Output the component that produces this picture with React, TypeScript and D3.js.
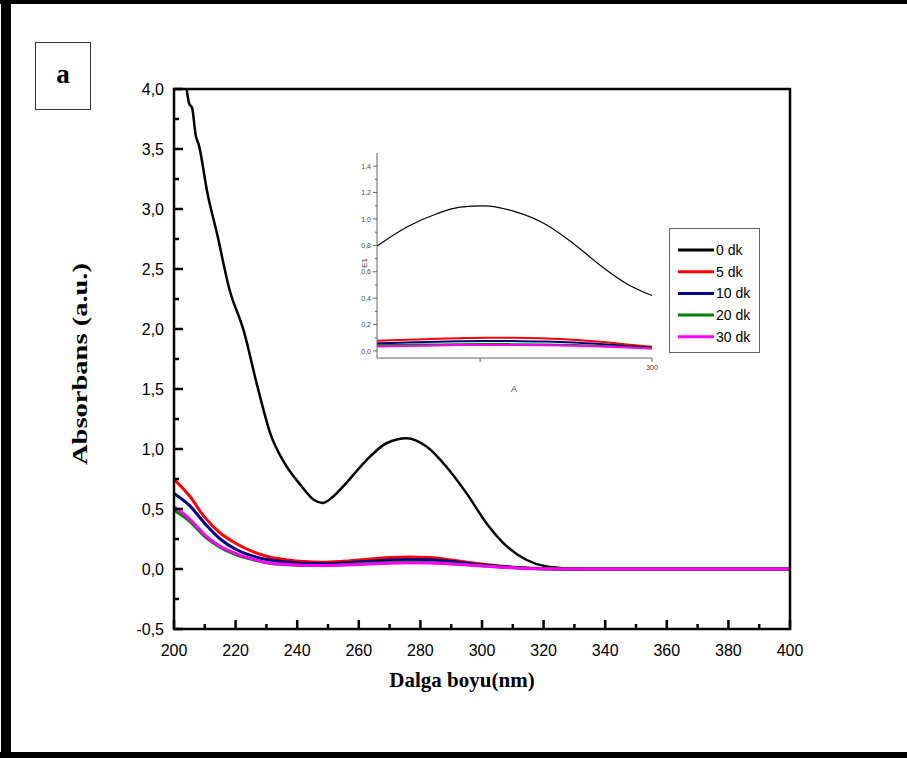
import React from "react";
import * as d3 from "d3";

// ---------- main chart data ----------
const blackX = [203.6, 204.1, 204.9, 205.9, 207.0, 208.1, 210.8, 214.1, 217.9, 222.7, 227.0, 231.4, 235.7, 241.1, 245.5, 248.2, 251.5, 255.0, 262.6, 269.1, 275.6, 282.0, 288.5, 295.0, 301.5, 308.0, 314.5, 321.0, 327.5, 332.0];
const blackY = [4.1, 4.0, 3.88, 3.84, 3.62, 3.53, 3.14, 2.78, 2.34, 1.98, 1.53, 1.12, 0.89, 0.70, 0.575, 0.55, 0.6, 0.69, 0.91, 1.05, 1.09, 1.02, 0.85, 0.63, 0.38, 0.19, 0.075, 0.02, 0.005, 0.0];

const wl = [200, 205, 210, 215, 220, 226, 231, 237, 242, 248, 255, 262, 270, 276, 283, 290, 297, 305, 312, 320, 330, 400];
const red = [0.75, 0.61, 0.43, 0.3, 0.215, 0.14, 0.1, 0.075, 0.062, 0.056, 0.065, 0.08, 0.095, 0.1, 0.095, 0.075, 0.05, 0.028, 0.012, 0.003, 0, 0];
const blue = [0.63, 0.53, 0.38, 0.25, 0.165, 0.105, 0.075, 0.058, 0.047, 0.043, 0.05, 0.062, 0.075, 0.08, 0.077, 0.062, 0.042, 0.024, 0.01, 0.002, 0, 0];
const green = [0.49, 0.4, 0.27, 0.18, 0.12, 0.075, 0.048, 0.035, 0.03, 0.03, 0.035, 0.045, 0.055, 0.058, 0.055, 0.045, 0.032, 0.018, 0.008, 0.002, 0, 0];
const magenta = [0.52, 0.42, 0.285, 0.19, 0.13, 0.08, 0.05, 0.037, 0.031, 0.03, 0.033, 0.04, 0.048, 0.052, 0.05, 0.042, 0.03, 0.017, 0.007, 0.002, 0, 0];

const legendLabels = ["0 dk", "5 dk", "10 dk", "20 dk", "30 dk"];
const seriesColors = ["#000000", "#ff0000", "#000080", "#008000", "#ff00ff"];

const xTicksMajor = [200, 220, 240, 260, 280, 300, 320, 340, 360, 380, 400];
const yTicksMajor = [-0.5, 0, 0.5, 1, 1.5, 2, 2.5, 3, 3.5, 4];

// ---------- inset data ----------
const insetX = [220, 228.7, 237.4, 244.2, 251, 259.7, 269.4, 277.1, 284.9, 292.6, 300];
const insetBlack = [0.795, 0.94, 1.04, 1.09, 1.1, 1.06, 0.955, 0.815, 0.65, 0.51, 0.42];
const insetRed = [0.078, 0.085, 0.092, 0.097, 0.1, 0.1, 0.095, 0.085, 0.07, 0.05, 0.032];
const insetBlue = [0.058, 0.064, 0.07, 0.074, 0.076, 0.075, 0.072, 0.065, 0.053, 0.038, 0.025];
const insetGreen = [0.045, 0.047, 0.05, 0.052, 0.053, 0.052, 0.05, 0.046, 0.04, 0.03, 0.02];
const insetMagenta = [0.035, 0.038, 0.042, 0.045, 0.046, 0.046, 0.044, 0.04, 0.034, 0.026, 0.018];
const insetYTicks = [0, 0.2, 0.4, 0.6, 0.8, 1.0, 1.2, 1.4];
const insetXTicks = [250, 300];

const fmt = (v: number) => d3.format(".1f")(v).replace(".", ",").replace("−", "-");

export default function App() {
  const W = 907, H = 758;
  const x = d3.scaleLinear().domain([200, 400]).range([174, 790]);
  const y = d3.scaleLinear().domain([-0.5, 4.0]).range([629, 89]);

  const line = (xs: number[], ys: number[]) =>
    d3.line<number>().x((_, i) => x(xs[i])).y((d) => y(d)).curve(d3.curveMonotoneX)(ys) || "";

  const xMinor = d3.range(210, 400, 20);
  const yMinor = d3.range(-0.25, 4.0, 0.5);

  // inset
  const ix = d3.scaleLinear().domain([220, 300]).range([377, 652]);
  const iy = d3.scaleLinear().domain([-0.05, 1.5]).range([357.6, 153]);
  const iline = (ys: number[]) =>
    d3.line<number>().x((_, i) => ix(insetX[i])).y((d) => iy(d)).curve(d3.curveMonotoneX)(ys) || "";
  const insetYMinor = d3.range(0.1, 1.5, 0.2);

  const mainSeries = [
    { ys: red, c: seriesColors[1] },
    { ys: blue, c: seriesColors[2] },
    { ys: green, c: seriesColors[3] },
    { ys: magenta, c: seriesColors[4] },
  ];
  const insetSeries = [
    { ys: insetRed, c: seriesColors[1] },
    { ys: insetBlue, c: seriesColors[2] },
    { ys: insetGreen, c: seriesColors[3] },
    { ys: insetMagenta, c: seriesColors[4] },
  ];

  return (
    <svg width={W} height={H} style={{ position: "absolute", left: 0, top: 0, background: "#fff" }}>
      <defs>
        <clipPath id="plotclip">
          <rect x={174} y={89} width={616} height={540} />
        </clipPath>
      </defs>
      {/* outer frame */}
      <rect x={1} y={0} width={10} height={H} fill="#000" />
      <rect x={0} y={0} width={W} height={4} fill="#000" />
      <rect x={0} y={752} width={W} height={6} fill="#000" />

      {/* label a */}
      <rect x={35.5} y={42.5} width={55} height={67} fill="#fff" stroke="#333" strokeWidth={1} />
      <text x={63} y={83} textAnchor="middle" fontFamily="Liberation Serif" fontWeight="bold" fontSize={27}>a</text>

      {/* data */}
      <g clipPath="url(#plotclip)">
        <path d={line(blackX, blackY)} fill="none" stroke="#000" strokeWidth={2.5} />
        {mainSeries.map((s, i) => (
          <path key={i} d={line(wl, s.ys)} fill="none" stroke={s.c} strokeWidth={3} />
        ))}
      </g>

      {/* plot frame */}
      <rect x={174} y={89} width={616} height={540} fill="none" stroke="#000" strokeWidth={2.5} />

      {/* x ticks */}
      {xTicksMajor.map((t) => (
        <g key={"xt" + t}>
          <line x1={x(t)} x2={x(t)} y1={629} y2={620} stroke="#000" strokeWidth={2.5} />
          <text x={x(t)} y={656} textAnchor="middle" fontFamily="Liberation Sans" fontSize={16}>{t}</text>
        </g>
      ))}
      {xMinor.map((t) => (
        <line key={"xm" + t} x1={x(t)} x2={x(t)} y1={629} y2={624} stroke="#000" strokeWidth={2.5} />
      ))}
      {/* y ticks */}
      {yTicksMajor.map((t) => (
        <g key={"yt" + t}>
          <line x1={174} x2={183} y1={y(t)} y2={y(t)} stroke="#000" strokeWidth={2.5} />
          <text x={164} y={y(t) + 5.5} textAnchor="end" fontFamily="Liberation Sans" fontSize={16}>{fmt(t)}</text>
        </g>
      ))}
      {yMinor.map((t) => (
        <line key={"ym" + t} x1={174} x2={179} y1={y(t)} y2={y(t)} stroke="#000" strokeWidth={2.5} />
      ))}

      {/* axis titles */}
      <text x={462} y={687} textAnchor="middle" fontFamily="Liberation Serif" fontWeight="bold" fontSize={21}>Dalga boyu(nm)</text>
      <text transform={`translate(87,364) rotate(-90)`} textAnchor="middle" fontFamily="Liberation Serif" fontWeight="bold" fontSize={22} textLength={202} lengthAdjust="spacingAndGlyphs">Absorbans (a.u.)</text>

      {/* inset */}
      <g>
        {insetSeries.map((s, i) => (
          <path key={"is" + i} d={iline(s.ys)} fill="none" stroke={s.c} strokeWidth={2} />
        ))}
        <path d={iline(insetBlack)} fill="none" stroke="#000" strokeWidth={1.2} />
        <line x1={377} x2={377} y1={153} y2={358} stroke="#666" strokeWidth={1} />
        <line x1={377} x2={652} y1={358} y2={358} stroke="#666" strokeWidth={1} />
        {insetYTicks.map((t) => (
          <g key={"iyt" + t}>
            <line x1={373} x2={377} y1={iy(t)} y2={iy(t)} stroke="#666" strokeWidth={1} />
            <text x={371} y={iy(t) + 2.5} textAnchor="end" fontFamily="Liberation Sans" fontSize={7} fill="#444">{fmt(t)}</text>
          </g>
        ))}
        {insetYMinor.map((t) => (
          <line key={"iym" + t} x1={375} x2={377} y1={iy(t)} y2={iy(t)} stroke="#666" strokeWidth={1} />
        ))}
        {insetXTicks.map((t) => (
          <g key={"ixt" + t}>
            <line x1={ix(t)} x2={ix(t)} y1={358} y2={362} stroke="#666" strokeWidth={1} />
            {t === 300 ? (
              <text x={ix(t)} y={370} textAnchor="middle" fontFamily="Liberation Sans" fontSize={7} fill="#444">{t}</text>
            ) : null}
          </g>
        ))}
        <text x={514} y={392} textAnchor="middle" fontFamily="Liberation Sans" fontSize={9} fill="#444">A</text>
        <text transform="translate(367,263) rotate(-90)" textAnchor="middle" fontFamily="Liberation Sans" fontSize={8} fill="#444">E1</text>
      </g>

      {/* legend */}
      <rect x={669.5} y={228.5} width={90} height={124} fill="#fff" stroke="#666" strokeWidth={1} />
      {legendLabels.map((lab, i) => {
        const yy = 250 + i * 21.7;
        return (
          <g key={lab}>
            <line x1={678} x2={714} y1={yy} y2={yy} stroke={seriesColors[i]} strokeWidth={3} />
            <text x={716} y={yy + 5} fontFamily="Liberation Sans" fontSize={14}>{lab}</text>
          </g>
        );
      })}
    </svg>
  );
}
